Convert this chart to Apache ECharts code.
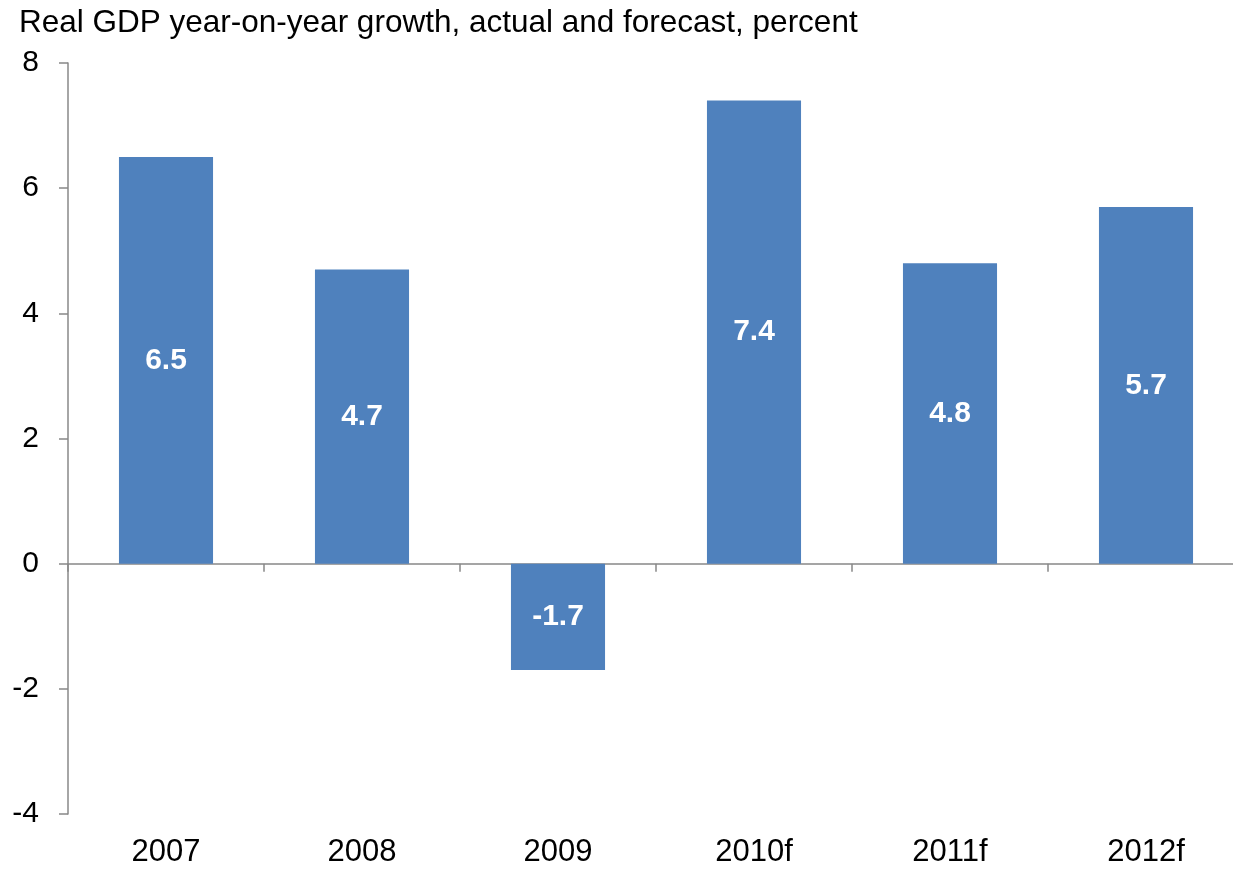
<!DOCTYPE html>
<html>
<head>
<meta charset="utf-8">
<script src="https://cdn.jsdelivr.net/npm/echarts@6/dist/echarts.min.js"></script>
<style>
  html, body { margin: 0; padding: 0; background: #fff; }
  #chart { width: 1233px; height: 869px; }
</style>
</head>
<body>
<div id="chart"></div>
<script>
// Real GDP growth, actual years and forecasts
const categories = ['2007', '2008', '2009', '2010f', '2011f', '2012f'];
const growth = [6.5, 4.7, -1.7, 7.4, 4.8, 5.7];
const yTicks = { min: -4, max: 8, interval: 2 };
const titleText = 'Real GDP year-on-year growth, actual and forecast, percent';

const FONT = '"Liberation Sans", Arial, sans-serif';
const AXIS_GRAY = '#888888';

const chart = echarts.init(document.getElementById('chart'), null, { renderer: 'canvas' });
chart.setOption({
  backgroundColor: '#ffffff',
  animation: false,
  title: {
    text: titleText,
    left: 14,
    top: 2,
    textStyle: { fontFamily: FONT, fontSize: 31.5, fontWeight: 'normal', color: '#000' }
  },
  // plot runs a little past the right edge of the page
  grid: {
    left: 68, width: 1176, top: 63, bottom: 55,
    containLabel: false,
    outerBoundsMode: 'none'
  },
  xAxis: [
    {
      // axis line and ticks through zero
      type: 'category',
      data: categories,
      boundaryGap: true,
      axisLine: { show: true, onZero: true, lineStyle: { color: AXIS_GRAY, width: 1.5 } },
      axisTick: { show: true, length: 8, alignWithLabel: false, lineStyle: { color: AXIS_GRAY, width: 1.5 } },
      axisLabel: { show: false },
      splitLine: { show: false }
    },
    {
      // category labels along the bottom
      type: 'category',
      data: categories,
      position: 'bottom',
      boundaryGap: true,
      axisLine: { show: false, onZero: false },
      axisTick: { show: false },
      axisLabel: { show: true, margin: 23, fontFamily: FONT, fontSize: 31, color: '#000' },
      splitLine: { show: false }
    }
  ],
  yAxis: {
    type: 'value',
    min: yTicks.min,
    max: yTicks.max,
    interval: yTicks.interval,
    axisLine: { show: true, lineStyle: { color: AXIS_GRAY, width: 1.5 } },
    axisTick: { show: true, inside: false, length: 9, lineStyle: { color: AXIS_GRAY, width: 1.5 } },
    axisLabel: { margin: 29, fontFamily: FONT, fontSize: 30, color: '#000' },
    splitLine: { show: false }
  },
  series: [{
    type: 'bar',
    xAxisIndex: 0,
    data: growth,
    barWidth: '48%',
    itemStyle: { color: '#4F81BD' },
    label: {
      show: true,
      position: 'inside',
      fontFamily: FONT,
      fontSize: 30,
      fontWeight: 'bold',
      color: '#ffffff',
      formatter: p => p.value.toFixed(1)
    }
  }]
});
</script>
</body>
</html>
